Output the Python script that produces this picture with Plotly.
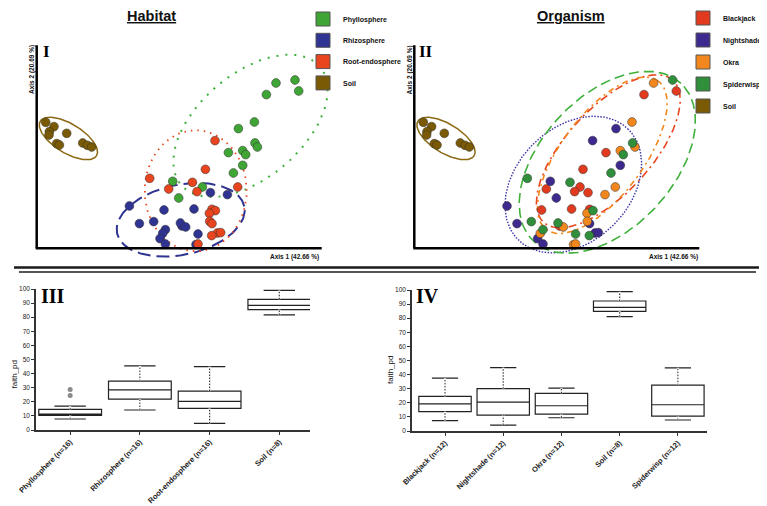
import numpy as np
import plotly.graph_objects as go

# The page body keeps the browser's default 8px margin, so the figure is laid out in
# window pixels and drawn 8px smaller than the window.
WIN_W, WIN_H = 767, 506
OFF = 8
FW, FH = WIN_W - OFF, WIN_H - OFF
SANS = "Arial, Liberation Sans, sans-serif"
NARROW = "Liberation Sans Narrow, Arial Narrow, Liberation Sans, sans-serif"
SERIF = "Liberation Serif, Times New Roman, serif"

# ---------------- PCoA sample scores (arbitrary units; same samples in panels I and II)
pc1 = [239.3, 258.3, 262.0, 229.7, 201.7, 217.7, 218.3, 220.7, 191.7, 206.0, 209.0, 206.0, 196.7, 136.0, 165.7, 142.0,
       145.3, 173.7, 190.7, 92.7, 127.3, 157.3, 102.7, 117.0, 143.7, 149.0, 128.7, 126.0, 161.3, 123.3, 128.7, 159.3,
       178.3, 168.7, 113.0, 155.7, 132.0, 160.3, 201.0, 175.3, 178.7, 172.7, 173.0, 175.3, 180.7, 184.0, 175.0, 161.3,
       9.0, 17.3, 12.7, 12.3, 30.0, 20.0, 22.7, 46.0, 50.7, 55.0]
pc2 = [165.3, 168.3, 157.3, 153.7, 119.7, 126.3, 105.3, 101.3, 95.7, 97.7, 93.7, 83.0, 75.3, 67.0, 61.3, 50.3,
       22.3, 55.7, 53.7, 42.3, 38.3, 39.3, 24.7, 26.7, 25.3, 21.3, 18.7, 15.0, 14.3, 9.7, 4.3, 3.7,
       107.7, 79.0, 70.0, 66.0, 59.3, 56.7, 61.3, 39.0, 37.7, 35.0, 27.0, 24.7, 15.3, 15.7, 12.7, 4.3,
       126.0, 121.7, 116.7, 113.3, 115.0, 104.7, 103.3, 105.3, 103.0, 101.3]
habitat = (["Phyllosphere"] * 16 + ["Rhizosphere"] * 16 + ["Root-endosphere"] * 16 + ["Soil"] * 10)
organism = ["Okra", "Spiderwisp", "Blackjack", "Blackjack", "Nightshade", "Okra", "Spiderwisp", "Okra",
            "Blackjack", "Okra", "Spiderwisp", "Nightshade", "Spiderwisp", "Nightshade", "Blackjack", "Nightshade",
            "Blackjack", "Blackjack", "Okra", "Nightshade", "Blackjack", "Blackjack", "Nightshade", "Spiderwisp",
            "Spiderwisp", "Okra", "Spiderwisp", "Okra", "Spiderwisp", "Nightshade", "Nightshade", "Okra",
            "Nightshade", "Blackjack", "Spiderwisp", "Spiderwisp", "Blackjack", "Blackjack", "Okra", "Blackjack",
            "Spiderwisp", "Okra", "Okra", "Nightshade", "Nightshade", "Nightshade", "Spiderwisp", "Okra"] + ["Soil"] * 10

hab_groups = ["Phyllosphere", "Rhizosphere", "Root-endosphere", "Soil"]
hab_colors = ["#3FA535", "#2F3391", "#E8441E", "#7A5A05"]
org_groups = ["Blackjack", "Nightshade", "Okra", "Spiderwisp", "Soil"]
org_colors = ["#E23A1E", "#3E2A8E", "#F2871D", "#2F8F3A", "#7A5A05"]

# confidence-ellipse parameters (centre, semi-axes, rotation in degrees)
hab_ell_cx = [213.8, 144.0, 159.0, 31.7]
hab_ell_cy = [122.5, 28.5, 57.5, 109.8]
hab_ell_a = [91.3, 65.0, 51.0, 33.0]
hab_ell_b = [52.0, 35.0, 60.5, 14.5]
hab_ell_ang = [40.4, 12.0, 0.0, -31.6]
hab_ell_dash = ["2px,7px", "13px,6px", "1.5px,5px", "solid"]
hab_ell_col = ["#3FB03A", "#2F3391", "#E8441E", "#8C6A14"]
hab_ell_w = [2.0, 2.0, 1.8, 1.5]

org_ell_cx = [194.0, 159.0, 188.0, 193.0, 31.7]
org_ell_cy = [97.0, 63.7, 93.0, 86.0, 109.8]
org_ell_a = [96.0, 78.0, 93.0, 108.0, 33.0]
org_ell_b = [42.5, 57.0, 41.0, 66.0, 14.5]
org_ell_ang = [47.6, 45.0, 53.0, 47.0, -31.6]
org_ell_dash = ["8px,4px,2px,4px", "1.5px,1.5px", "6px,4px,2px,4px", "10px,5px", "solid"]
org_ell_col = ["#E8441E", "#3A34A8", "#F2871D", "#3FB03A", "#8C6A14"]
org_ell_w = [1.6, 1.4, 1.6, 1.6, 1.5]

axis1_label = "Axis 1 (42.66 %)"
axis2_label = "Axis 2 (20.69 %)"
AX1_LEN, AX2_LEN = 284, 203

# ---------------- alpha diversity (faith_pd) box statistics
hab_box_labels = ["Phyllosphere (n=16)", "Rhizosphere (n=16)", "Root-endosphere (n=16)", "Soil (n=8)"]
hab_q1 = [10.4, 21.9, 15.3, 85.4]
hab_med = [11.3, 28.5, 20.3, 88.4]
hab_q3 = [14.6, 34.7, 27.6, 92.7]
hab_lo = [7.8, 14.2, 4.7, 81.6]
hab_hi = [17.0, 45.5, 45.0, 99.0]
hab_out_idx = [0, 0]
hab_out_val = [24.5, 28.8]

org_box_labels = ["Blackjack (n=12)", "Nightshade (n=12)", "Okra (n=12)", "Soil (n=8)", "Spiderwisp (n=12)"]
org_q1 = [13.7, 11.3, 12.0, 84.9, 10.6]
org_med = [19.3, 20.5, 17.9, 87.7, 18.6]
org_q3 = [24.5, 30.0, 26.7, 92.2, 32.5]
org_lo = [7.3, 4.2, 9.4, 81.1, 7.8]
org_hi = [37.5, 45.0, 30.4, 98.8, 44.8]


def px(x):
    return (x - OFF) / FW


def py(y):
    return 1 - (y - OFF) / FH


def ellipse(cx, cy, a, b, ang, n=200):
    t = np.linspace(0, 2 * np.pi, n)
    th = np.deg2rad(ang)
    x = cx + a * np.cos(t) * np.cos(th) - b * np.sin(t) * np.sin(th)
    y = cy + a * np.cos(t) * np.sin(th) + b * np.sin(t) * np.cos(th)
    return x, y


fig = go.Figure()

# ---------------- scatter panels
panels = [
    ("x", "y", "legend", hab_groups, hab_colors, habitat,
     (hab_ell_cx, hab_ell_cy, hab_ell_a, hab_ell_b, hab_ell_ang, hab_ell_dash, hab_ell_col, hab_ell_w)),
    ("x2", "y2", "legend2", org_groups, org_colors, organism,
     (org_ell_cx, org_ell_cy, org_ell_a, org_ell_b, org_ell_ang, org_ell_dash, org_ell_col, org_ell_w)),
]
for xa, ya, lg, groups, cols, labels, ell in panels:
    cxs, cys, As, Bs, angs, dashes, ecols, ews = ell
    for i in range(len(groups)):
        ex, ey = ellipse(cxs[i], cys[i], As[i], Bs[i], angs[i])
        fig.add_trace(go.Scatter(x=ex, y=ey, mode="lines", xaxis=xa, yaxis=ya, showlegend=False,
                                 hoverinfo="skip",
                                 line=dict(color=ecols[i], width=ews[i], dash=dashes[i])))
    for g, c in zip(groups, cols):
        xs = [pc1[k] for k in range(len(pc1)) if labels[k] == g]
        ys = [pc2[k] for k in range(len(pc2)) if labels[k] == g]
        fig.add_trace(go.Scatter(x=xs, y=ys, mode="markers", xaxis=xa, yaxis=ya, showlegend=False, name=g,
                                 marker=dict(size=8.8, color=c, line=dict(color="rgba(50,50,50,0.85)", width=0.6))))
    for g, c in zip(groups, cols):
        fig.add_trace(go.Scatter(x=[None], y=[None], mode="markers", xaxis=xa, yaxis=ya, name=g,
                                 legend=lg, legendgroup=lg + g, showlegend=True,
                                 marker=dict(symbol="square", size=14, color=c,
                                             line=dict(color="#555", width=1))))

# ---------------- box panels
box_panels = [
    ("x3", "y3", hab_q1, hab_med, hab_q3, hab_lo, hab_hi),
    ("x4", "y4", org_q1, org_med, org_q3, org_lo, org_hi),
]
for xa, ya, q1, med, q3, lo, hi in box_panels:
    pos = list(range(len(q1)))
    fig.add_trace(go.Box(x=pos, q1=q1, median=med, q3=q3, lowerfence=lo, upperfence=hi,
                         width=0.9, whiskerwidth=0.5, fillcolor="white", boxpoints=False,
                         line=dict(color="#222", width=1.2), xaxis=xa, yaxis=ya,
                         showlegend=False, hoverinfo="skip"))
    wx, wy = [], []
    for i in pos:
        wx += [i, i, None, i, i, None]
        wy += [lo[i], q1[i], None, q3[i], hi[i], None]
    fig.add_trace(go.Scatter(x=wx, y=wy, mode="lines", xaxis=xa, yaxis=ya, showlegend=False,
                             hoverinfo="skip", line=dict(color="white", width=2.2)))
    fig.add_trace(go.Scatter(x=wx, y=wy, mode="lines", xaxis=xa, yaxis=ya, showlegend=False,
                             hoverinfo="skip", line=dict(color="#222", width=1, dash="1.5px,1.5px")))

fig.add_trace(go.Scatter(x=hab_out_idx, y=hab_out_val, mode="markers", xaxis="x3", yaxis="y3",
                         showlegend=False, marker=dict(size=5, color="#8a8a8a")))

# ---------------- axes (domains given in window pixels)
O1x, O2x, Oy = 36.7, 414.3, 248.3
hidden = dict(visible=False, showgrid=False, zeroline=False, fixedrange=True, automargin=False)
x_rng = [-5, 300]
x2_rng = [-5, 290]
y_rng = [-12, 205]
fig.update_layout(
    xaxis=dict(hidden, range=x_rng, domain=[px(O1x + x_rng[0]), px(O1x + x_rng[1])]),
    yaxis=dict(hidden, range=y_rng, domain=[py(Oy - y_rng[0]), py(Oy - y_rng[1])]),
    xaxis2=dict(hidden, range=x2_rng, domain=[px(O2x + x2_rng[0]), px(O2x + x2_rng[1])]),
    yaxis2=dict(hidden, range=y_rng, domain=[py(Oy - y_rng[0]), py(Oy - y_rng[1])]),
)

box_x_common = dict(showgrid=False, zeroline=False, showline=True, linecolor="#333", linewidth=1.5,
                    ticks="outside", ticklen=3, tickcolor="#333", tickangle=-45, automargin=False,
                    tickfont=dict(family=SANS, size=7.5, color="#222", weight="bold"))
box_y_common = dict(range=[0, 100], dtick=10, showgrid=False, zeroline=False, showline=True,
                    linecolor="#333", linewidth=1.5, ticks="outside", ticklen=3, tickcolor="#333",
                    automargin=False, tickfont=dict(family=SANS, size=6.5, color="#222"))
fig.update_layout(
    xaxis3=dict(box_x_common, range=[-0.49, 3.44], tickvals=list(range(4)), ticktext=hab_box_labels,
                domain=[px(36), px(310)], anchor="y3"),
    yaxis3=dict(box_y_common, domain=[py(430), py(289)], anchor="x3"),
    xaxis4=dict(box_x_common, range=[-0.567, 4.5], tickvals=list(range(5)), ticktext=org_box_labels,
                domain=[px(412), px(707)], anchor="y4"),
    yaxis4=dict(box_y_common, domain=[py(431), py(290)], anchor="x4"),
)

# scatter-panel axis lines
shapes = []
for xr, yr in (("x", "y"), ("x2", "y2")):
    shapes.append(dict(type="line", xref=xr, yref=yr, x0=0, y0=0, x1=0, y1=AX2_LEN,
                       line=dict(color="black", width=2.5)))
    shapes.append(dict(type="line", xref=xr, yref=yr, x0=-1, y0=0, x1=AX1_LEN + 1, y1=0,
                       line=dict(color="black", width=2.5)))
# separator lines
shapes.append(dict(type="line", xref="paper", yref="paper", x0=px(14), x1=px(761), y0=py(267.5), y1=py(267.5),
                   line=dict(color="#1a1a1a", width=2.5)))
shapes.append(dict(type="line", xref="paper", yref="paper", x0=px(19), x1=px(756), y0=py(272), y1=py(272),
                   line=dict(color="#555", width=2)))

ann = []


def add_text(text, x, y, size, family=SANS, angle=0, xanchor="center", yanchor="middle", color="#111"):
    ann.append(dict(text=text, x=px(x), y=py(y), xref="paper", yref="paper", showarrow=False,
                    xanchor=xanchor, yanchor=yanchor, textangle=angle,
                    font=dict(family=family, size=size, color=color)))


add_text("<b><u>Habitat</u></b>", 151, 16, 14.5)
add_text("<b><u>Organism</u></b>", 571, 16, 14.5)
add_text("<b>I</b>", 46, 52, 17, SERIF, color="#000")
add_text("<b>II</b>", 426, 52, 17, SERIF, color="#000")
add_text("<b>III</b>", 53, 296, 20, SERIF, color="#000")
add_text("<b>IV</b>", 427.5, 296, 20, SERIF, color="#000")
add_text("<b>" + axis1_label + "</b>", 321, 256.7, 6.5, NARROW, xanchor="right")
add_text("<b>" + axis1_label + "</b>", 700, 257, 6.5, NARROW, xanchor="right")
add_text("<b>" + axis2_label + "</b>", 32, 70, 6.5, NARROW, angle=-90)
add_text("<b>" + axis2_label + "</b>", 409.5, 70, 6.5, NARROW, angle=-90)
add_text("faith_pd", 13.5, 375, 8, angle=-90)
add_text("faith_pd", 390, 370, 8, angle=-90)

legend_common = dict(xanchor="left", yanchor="top", bgcolor="rgba(0,0,0,0)", itemsizing="trace",
                     font=dict(family=SANS, size=7, color="#111", weight="bold"))
fig.update_layout(
    template="none",
    width=FW, height=FH, margin=dict(l=0, r=0, t=0, b=0, pad=0, autoexpand=False),
    paper_bgcolor="white", plot_bgcolor="rgba(0,0,0,0)",
    shapes=shapes, annotations=ann,
    legend=dict(legend_common, x=px(303), y=py(4.5), tracegroupgap=2.3),
    legend2=dict(legend_common, x=px(683), y=py(3.5), tracegroupgap=3),
)

fig.write_html("out.html")
